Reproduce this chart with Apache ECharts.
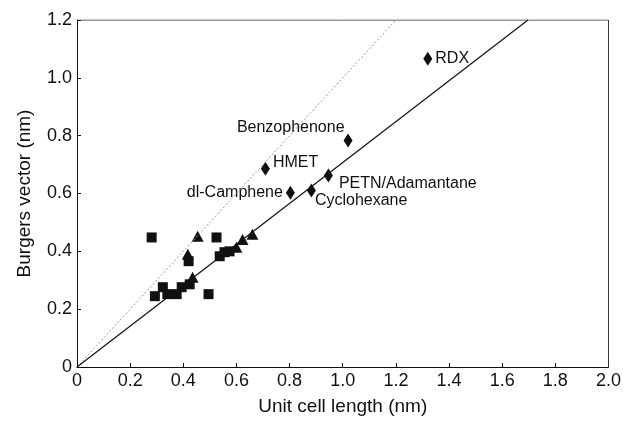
<!DOCTYPE html>
<html>
<head>
<meta charset="utf-8">
<script src="https://cdn.jsdelivr.net/npm/echarts@6/dist/echarts.min.js"></script>
<style>
  html, body { margin: 0; padding: 0; background: #fff; }
  #chart { width: 624px; height: 421px; }
</style>
</head>
<body>
<div id="chart"></div>
<script>
// Data (unit cell length vs Burgers vector, nm)
const squares = [
    [0.281, 0.448], [0.525, 0.448], [0.420, 0.366],
    [0.293, 0.245], [0.323, 0.276], [0.340, 0.252], [0.375, 0.252],
    [0.394, 0.276], [0.424, 0.286], [0.495, 0.252],
    [0.537, 0.383], [0.555, 0.397], [0.574, 0.400]
];
const triangles = [
    [0.454, 0.452], [0.417, 0.390], [0.435, 0.310],
    [0.600, 0.414], [0.623, 0.441], [0.660, 0.459]
];
const diamondNames = ['RDX', 'Benzophenone', 'HMET', 'PETN/Adamantane', 'Cyclohexane', 'dl-Camphene'];
const diamondX = [1.32, 1.02, 0.709, 0.946, 0.882, 0.803];
const diamondY = [1.066, 0.783, 0.686, 0.662, 0.610, 0.603];
// label placement: side and pixel offset [dx, dy]
const labelPos = ['right', 'left', 'right', 'right', 'right', 'left'];
const labelOffset = [[0, 0], [4, -13], [0, -6], [3, 8], [-4, 10], [0, 0]];

// reference lines b = a and b = a/sqrt(2)
const dottedLine = [[0, 0], [1.2, 1.2]];
const solidLine = [[0, 0], [1.2 * Math.SQRT2, 1.2]];

const chart = echarts.init(document.getElementById('chart'), null, { renderer: 'canvas' });
const font = 'Liberation Sans, Arial, Helvetica, sans-serif';
const fmt = v => (v === 0 ? '0' : v.toFixed(1));

const diamondData = diamondNames.map((name, i) => ({
    name: name,
    value: [diamondX[i], diamondY[i]],
    label: {
        show: true,
        formatter: name,
        position: labelPos[i],
        offset: labelOffset[i],
        distance: 3
    }
}));

const option = {
    backgroundColor: '#fff',
    animation: false,
    grid: { left: 77, right: 14, top: 20, bottom: 53, containLabel: false },
    xAxis: {
        type: 'value', min: 0, max: 2.0, interval: 0.2,
        name: 'Unit cell length (nm)', nameLocation: 'middle', nameGap: 30,
        nameTextStyle: { fontFamily: font, fontSize: 19, color: '#111' },
        axisLine: { show: true, lineStyle: { color: '#111', width: 1 } },
        axisTick: { show: true, inside: true, length: 4, lineStyle: { color: '#111' } },
        axisLabel: { formatter: fmt, fontFamily: font, fontSize: 18, color: '#111', margin: 5 },
        splitLine: { show: false }
    },
    yAxis: {
        type: 'value', min: 0, max: 1.2, interval: 0.2,
        name: 'Burgers vector (nm)', nameLocation: 'middle', nameGap: 43,
        nameTextStyle: { fontFamily: font, fontSize: 19, color: '#111' },
        axisLine: { show: true, lineStyle: { color: '#111', width: 1 } },
        axisTick: { show: true, inside: true, length: 4, lineStyle: { color: '#111' } },
        axisLabel: { formatter: fmt, fontFamily: font, fontSize: 18, color: '#111', margin: 5 },
        splitLine: { show: false }
    },
    series: [
        {
            // frame on the top and right
            type: 'line', silent: true, symbol: 'none',
            data: [[0, 1.2], [2.0, 1.2], [2.0, 0]],
            lineStyle: { color: '#333', width: 1 }
        },
        {
            type: 'line', silent: true, symbol: 'none',
            data: dottedLine,
            lineStyle: { color: '#999', width: 1, type: [2, 2] }
        },
        {
            type: 'line', silent: true, symbol: 'none',
            data: solidLine,
            lineStyle: { color: '#111', width: 1.2 }
        },
        {
            type: 'scatter', symbol: 'rect', symbolSize: 10,
            data: squares,
            itemStyle: { color: '#111', opacity: 1 }
        },
        {
            type: 'scatter', symbol: 'triangle', symbolSize: [12, 11],
            data: triangles,
            itemStyle: { color: '#111', opacity: 1 }
        },
        {
            type: 'scatter', symbol: 'diamond', symbolSize: [9, 14],
            data: diamondData,
            itemStyle: { color: '#111', opacity: 1 },
            label: { fontFamily: font, fontSize: 16, color: '#111' }
        }
    ]
};

chart.setOption(option);
</script>
</body>
</html>
